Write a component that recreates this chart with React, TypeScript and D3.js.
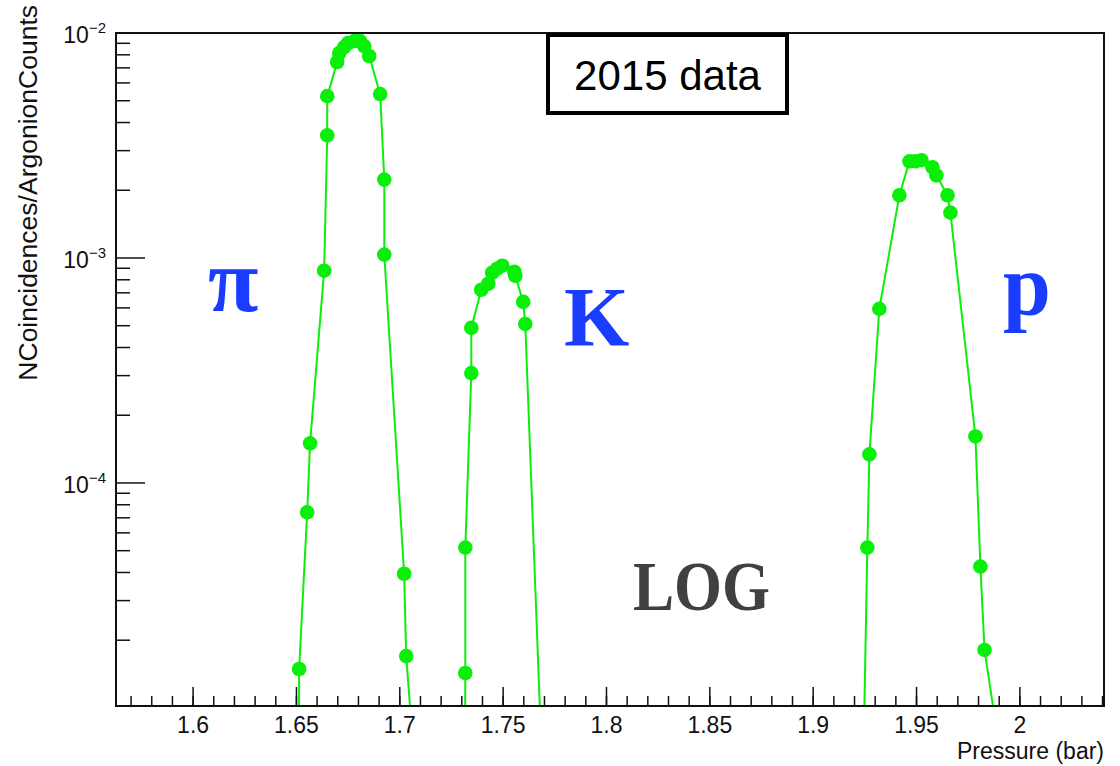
import React from "react";
import * as d3 from "d3";

// ---- data ----
const pionP = [1.6512, 1.6513, 1.6552, 1.6566, 1.6634, 1.6649, 1.6649, 1.6697, 1.6707, 1.6731, 1.675, 1.6779, 1.6808, 1.6828, 1.6852, 1.6905, 1.6925, 1.6925, 1.7021, 1.7031, 1.706];
const pionV = [4e-6, 1.49e-5, 7.4e-5, 1.5e-4, 8.78e-4, 3.51e-3, 5.24e-3, 7.43e-3, 8.14e-3, 8.66e-3, 9.03e-3, 9.21e-3, 9.21e-3, 8.75e-3, 7.9e-3, 5.35e-3, 2.23e-3, 1.035e-3, 3.95e-5, 1.7e-5, 7.6e-6];

const kaonP = [1.7315, 1.7317, 1.7317, 1.7346, 1.7346, 1.7394, 1.7428, 1.7447, 1.7471, 1.7496, 1.7554, 1.7559, 1.7597, 1.7607, 1.7685];
const kaonV = [5e-6, 1.43e-5, 5.16e-5, 3.08e-4, 4.89e-4, 7.22e-4, 7.68e-4, 8.6e-4, 8.96e-4, 9.24e-4, 8.69e-4, 8.34e-4, 6.38e-4, 5.09e-4, 6.65e-6];

const protonP = [1.9238, 1.9262, 1.9272, 1.932, 1.9417, 1.9466, 1.9495, 1.9524, 1.9577, 1.9596, 1.965, 1.9664, 1.9785, 1.9809, 1.9829, 1.9882];
const protonV = [3.3e-6, 5.16e-5, 1.34e-4, 5.94e-4, 1.9e-3, 2.69e-3, 2.69e-3, 2.72e-3, 2.53e-3, 2.33e-3, 1.9e-3, 1.59e-3, 1.61e-4, 4.25e-5, 1.81e-5, 8.6e-6];

const xTickValues = [1.6, 1.65, 1.7, 1.75, 1.8, 1.85, 1.9, 1.95, 2.0];
const xTickLabels = ["1.6", "1.65", "1.7", "1.75", "1.8", "1.85", "1.9", "1.95", "2"];
const yDecades = [-2, -3, -4];

const xTitle = "Pressure (bar)";
const yTitle = "NCoincidences/ArgonionCounts";
const boxText = "2015 data";

const W = 1120;
const H = 766;
const L = 116, R = 1104, T = 33, B = 706;
const GREEN = "#0aef0a";
const BLUE = "#1a3cff";

export default function App() {
  const x = d3.scaleLinear().domain([1.5627, 2.0407]).range([L, R]);
  const y = d3.scaleLog().domain([1.02e-5, 1e-2]).range([B, T]);

  const series = [
    { p: pionP, v: pionV },
    { p: kaonP, v: kaonV },
    { p: protonP, v: protonV },
  ];

  const line = d3
    .line<[number, number]>()
    .x((d) => x(d[0]))
    .y((d) => y(d[1]))
    .curve(d3.curveLinear);

  // minor ticks
  const xMinor: number[] = [];
  for (let i = 157; i <= 204; i++) {
    const v = i / 100;
    if (v >= 1.5627 && v <= 2.0407) xMinor.push(v);
  }
  const yMinor: number[] = [];
  for (let k = -5; k <= -3; k++) {
    for (let m = 2; m <= 9; m++) {
      const v = m * Math.pow(10, k);
      if (v >= 1.02e-5 && v <= 1e-2) yMinor.push(v);
    }
  }

  return (
    <svg
      width={W}
      height={H}
      style={{ position: "absolute", left: 0, top: 0, background: "#fff" }}
      fontFamily="'Liberation Sans', Arial, sans-serif"
    >
      <defs>
        <clipPath id="frameClip">
          <rect x={L} y={T} width={R - L} height={B - T} />
        </clipPath>
      </defs>

      {/* data */}
      <g clipPath="url(#frameClip)">
        {series.map((s, i) => {
          const pts: [number, number][] = s.p.map((p, j) => [p, s.v[j]]);
          return (
            <g key={i}>
              <path d={line(pts) || ""} fill="none" stroke={GREEN} strokeWidth={2} />
              {pts.map((d, j) => (
                <circle key={j} cx={x(d[0])} cy={y(d[1])} r={7.3} fill={GREEN} />
              ))}
            </g>
          );
        })}
      </g>

      {/* frame */}
      <rect x={L} y={T} width={R - L} height={B - T} fill="none" stroke="#111" strokeWidth={2} />

      {/* x ticks */}
      {xMinor.map((v, i) => (
        <line key={"xm" + i} x1={x(v)} x2={x(v)} y1={B} y2={B - 10} stroke="#111" strokeWidth={1.5} />
      ))}
      {xTickValues.map((v, i) => (
        <g key={"xt" + i}>
          <line x1={x(v)} x2={x(v)} y1={B} y2={B - 19} stroke="#111" strokeWidth={1.5} />
          <text x={x(v)} y={733} textAnchor="middle" fontSize={23} fill="#111">
            {xTickLabels[i]}
          </text>
        </g>
      ))}

      {/* y ticks */}
      {yMinor.map((v, i) => (
        <line key={"ym" + i} x1={L} x2={L + 14} y1={y(v)} y2={y(v)} stroke="#111" strokeWidth={1.5} />
      ))}
      {yDecades.map((k, i) => {
        const yy = y(Math.pow(10, k));
        return (
          <g key={"yt" + i}>
            <line x1={L} x2={L + 29} y1={yy} y2={yy} stroke="#111" strokeWidth={1.5} />
            <text x={106} y={yy + 10} textAnchor="end" fontSize={23} fill="#111">
              10
              <tspan fontSize={15} dy={-10}>
                {String(k).replace("-", "\u2212")}
              </tspan>
            </text>
          </g>
        );
      })}

      {/* axis titles */}
      <text x={R} y={759} textAnchor="end" fontSize={23} fill="#111">
        {xTitle}
      </text>
      <text
        transform={`translate(37, 5) rotate(-90)`}
        textAnchor="end"
        fontSize={26.5}
        fill="#111"
      >
        {yTitle}
      </text>

      {/* 2015 data box */}
      <rect x={548} y={35} width={239} height={78} fill="#fff" stroke="#000" strokeWidth={4} />
      <text x={667.5} y={90} textAnchor="middle" fontSize={42} fill="#000">
        {boxText}
      </text>

      {/* particle labels */}
      <g fontFamily="'Liberation Serif', 'DejaVu Serif', serif" fontWeight="bold">
        <text x={208} y={311} fontSize={92} fill={BLUE}>π</text>
        <text x={564} y={346} fontSize={84} fill={BLUE}>K</text>
        <text x={1003} y={314} fontSize={86} fill={BLUE}>p</text>
        <text x={633} y={610} fontSize={70} fill="#404040" textLength={137} lengthAdjust="spacingAndGlyphs">
          LOG
        </text>
      </g>
    </svg>
  );
}
